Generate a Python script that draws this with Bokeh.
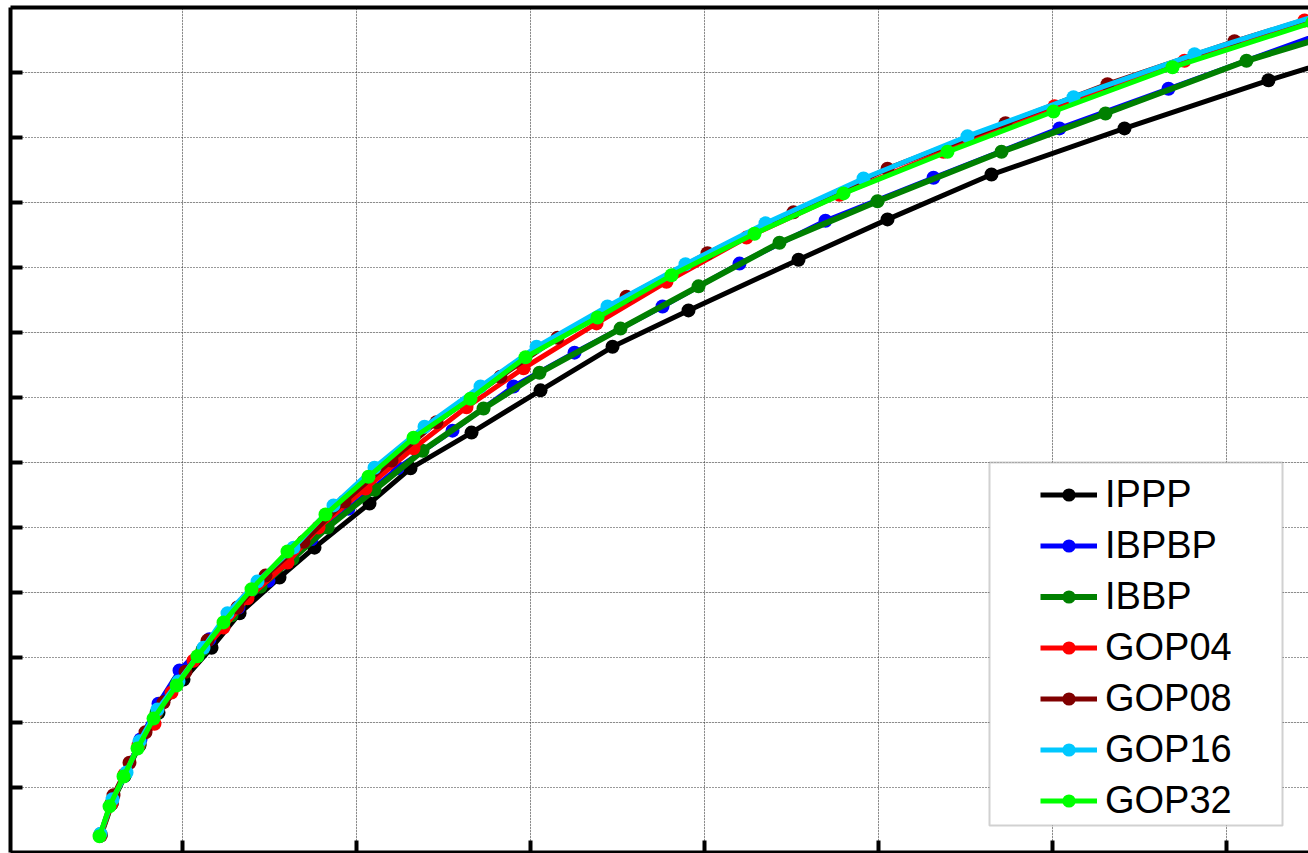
from bokeh.plotting import figure
from bokeh.models import (Range1d, LinearAxis, FixedTicker, Grid, Legend, LegendItem,
                          BoxAnnotation, CustomLabelingPolicy)
from bokeh.embed import file_html
from bokeh.resources import INLINE

# ---- data: bitrate (kbps) vs PSNR (dB) ----
IPPP_kbps = [264.4, 296.0, 333.3, 376.4, 431.0, 502.9, 583.4, 663.8, 778.7, 879.3, 1037.4,
             1155.2, 1330.5, 1528.8, 1735.7, 1954.0, 2270.1, 2525.9, 2824.7, 3206.9, 3620.7, 4057.5]
IPPP_psnr = [28.26, 28.75, 29.18, 29.65, 30.15, 30.66, 31.15, 31.68, 32.23, 32.69, 33.37,
             33.91, 34.46, 35.11, 35.78, 36.34, 37.12, 37.74, 38.43, 39.14, 39.88, 40.60]

IBPBP_kbps = [264.4, 296.0, 333.3, 379.3, 431.0, 491.4, 577.6, 660.9, 747.1, 870.7, 977.0,
              1117.8, 1275.9, 1451.2, 1626.5, 1879.3, 2100.6, 2347.7, 2658.1, 3020.2, 3333.4, 3784.5]
IBPBP_psnr = [28.26, 28.75, 29.18, 29.74, 30.29, 30.80, 31.28, 31.77, 32.18, 32.82, 33.29,
              33.91, 34.49, 35.17, 35.69, 36.40, 37.06, 37.72, 38.38, 39.14, 39.75, 40.62]

IBBP_kbps = [264.4, 296.0, 333.3, 376.4, 425.3, 485.6, 557.5, 640.8, 724.2, 816.1, 916.7,
             1051.7, 1189.7, 1365.0, 1525.9, 1758.6, 1982.8, 2215.5, 2497.2, 2853.5, 3152.3,
             3557.5, 3985.7]
IBBP_psnr = [28.26, 28.75, 29.18, 29.66, 30.15, 30.62, 31.12, 31.65, 32.09, 32.52, 33.00,
             33.58, 34.18, 34.83, 35.38, 36.06, 36.71, 37.38, 38.02, 38.78, 39.37, 40.18, 40.88]

GOP04_kbps = [264.4, 296.0, 333.3, 373.6, 419.5, 468.4, 531.6, 617.8, 686.8, 801.7, 890.8,
              1025.9, 1163.8, 1316.1, 1479.9, 1689.7, 1890.8, 2120.7, 2388.0, 2686.8, 3005.8,
              3379.4, 3724.2, 4129.4]
GOP04_psnr = [28.26, 28.75, 29.20, 29.65, 29.98, 30.46, 30.95, 31.46, 31.91, 32.46, 33.00,
              33.60, 34.22, 34.85, 35.45, 36.14, 36.78, 37.46, 38.12, 38.78, 39.48, 40.18,
              40.80, 41.48]

GOP08_kbps = [264.4, 301.7, 347.7, 393.7, 445.4, 508.6, 571.8, 658.1, 738.5, 847.7, 965.5,
              1100.6, 1229.9, 1413.8, 1577.6, 1775.9, 2008.6, 2255.8, 2525.9, 2865.0, 3158.1,
              3523.0, 3928.2]
GOP08_psnr = [28.28, 28.88, 29.38, 29.85, 30.31, 30.78, 31.26, 31.77, 32.26, 32.78, 33.40,
              34.03, 34.62, 35.32, 35.92, 36.55, 37.22, 37.85, 38.52, 39.22, 39.82, 40.48, 41.14]

GOP16_kbps = [264.4, 298.9, 339.1, 376.4, 428.2, 488.5, 560.4, 629.3, 715.5, 819.0, 933.9,
              1051.7, 1195.4, 1356.3, 1517.3, 1721.3, 1945.4, 2175.3, 2456.9, 2755.8, 3060.4,
              3408.1, 3784.5]
GOP16_psnr = [28.29, 28.82, 29.23, 29.71, 30.20, 30.63, 31.15, 31.68, 32.17, 32.69, 33.34,
              33.92, 34.55, 35.17, 35.78, 36.40, 37.05, 37.68, 38.37, 39.02, 39.62, 40.28, 40.92]

GOP32_kbps = [261.5, 290.2, 330.5, 370.7, 416.7, 482.8, 543.1, 617.8, 698.3, 801.7, 910.9,
              1034.5, 1163.8, 1327.6, 1485.7, 1692.6, 1905.2, 2143.7, 2399.5, 2698.3, 3002.9,
              3344.9, 3747.2]
GOP32_psnr = [28.25, 28.71, 29.17, 29.60, 30.06, 30.57, 31.02, 31.54, 32.05, 32.63, 33.20,
              33.78, 34.38, 34.98, 35.62, 36.23, 36.88, 37.52, 38.14, 38.78, 39.40, 40.08, 40.77]

series_names = ["IPPP", "IBPBP", "IBBP", "GOP04", "GOP08", "GOP16", "GOP32"]
series_x = [IPPP_kbps, IBPBP_kbps, IBBP_kbps, GOP04_kbps, GOP08_kbps, GOP16_kbps, GOP32_kbps]
series_y = [IPPP_psnr, IBPBP_psnr, IBBP_psnr, GOP04_psnr, GOP08_psnr, GOP16_psnr, GOP32_psnr]
series_colors = ["#000000", "#0000FF", "#008000", "#FF0000", "#800000", "#00C8FF", "#00FF00"]

x_ticks = [500, 1000, 1500, 2000, 2500, 3000, 3500]
y_ticks = [29, 30, 31, 32, 33, 34, 35, 36, 37, 38, 39, 40]

# ---- figure ----
p = figure(width=1308, height=853, output_backend="svg", toolbar_location=None,
           x_range=Range1d(5.7, 3735.7), y_range=Range1d(28, 41),
           x_axis_location=None, y_axis_location=None,
           min_border_left=10, min_border_right=0, min_border_top=7, min_border_bottom=1,
           outline_line_color=None, background_fill_color="white")


def make_axis(ticks, tick_in):
    return LinearAxis(ticker=FixedTicker(ticks=ticks), major_tick_in=tick_in, major_tick_out=0,
                      minor_tick_in=0, minor_tick_out=0, minor_tick_line_color=None,
                      major_label_policy=CustomLabelingPolicy(code="return []"),
                      major_label_overrides={t: "" for t in ticks},
                      major_label_text_font_size="1px", major_label_standoff=0,
                      axis_line_width=4, axis_line_color="black",
                      major_tick_line_width=4, major_tick_line_color="black")


p.add_layout(make_axis(y_ticks, 12), "left")
p.add_layout(make_axis(x_ticks, 12), "below")
p.add_layout(make_axis([], 0), "above")

p.add_layout(Grid(dimension=0, ticker=FixedTicker(ticks=x_ticks), grid_line_color="#333333",
                  grid_line_width=1, grid_line_dash="1 2"))
p.add_layout(Grid(dimension=1, ticker=FixedTicker(ticks=y_ticks), grid_line_color="#333333",
                  grid_line_width=1, grid_line_dash="1 2"))

items = []
for name, xs, ys, c in zip(series_names, series_x, series_y, series_colors):
    lw = 6 if name == "IBBP" else 5
    lr = p.line(xs, ys, line_color=c, line_width=lw)
    sr = p.scatter(xs, ys, size=14, fill_color=c, line_color=c, line_width=0)
    items.append(LegendItem(label=name, renderers=[lr, sr]))

box = BoxAnnotation(left=2819, right=3661, top=34.0, bottom=28.415,
                    fill_color="white", fill_alpha=1.0,
                    line_color="#666666", line_width=2)
p.add_layout(box)

legend = Legend(items=items, location=(1030, 30), padding=0, margin=0, spacing=7,
                glyph_width=57, glyph_height=33, label_height=44, label_standoff=8,
                label_text_font="Liberation Sans", label_text_font_size="38px",
                label_text_color="black",
                border_line_color=None, background_fill_alpha=0)
p.add_layout(legend)

open("out.html", "w").write(file_html(p, INLINE))
